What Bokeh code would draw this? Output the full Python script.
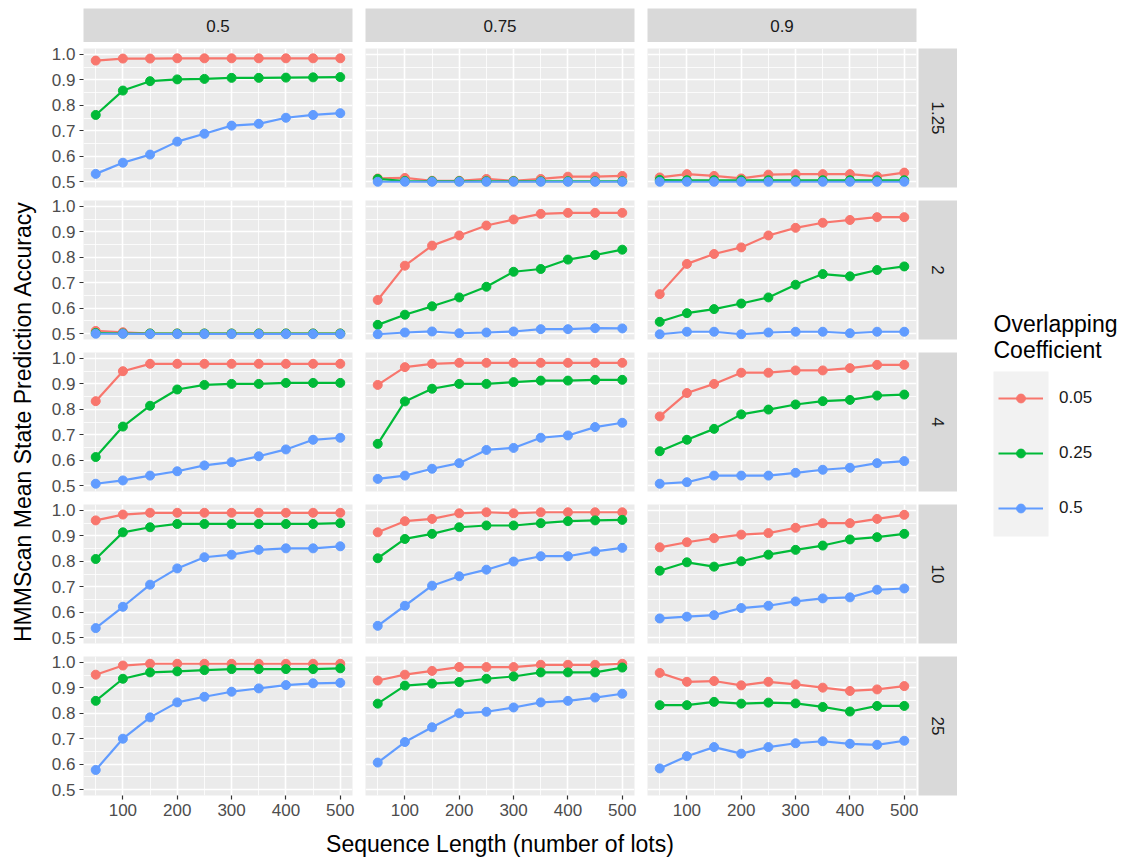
import math
from bokeh.plotting import figure
from bokeh.models import Range1d, FixedTicker, PrintfTickFormatter, Label, Legend, LegendItem, Spacer
from bokeh.layouts import row, column
from bokeh.embed import file_html
from bokeh.resources import INLINE

# ---------------- data ----------------
seq_length = [50, 100, 150, 200, 250, 300, 350, 400, 450, 500]
col_labels = ["0.5", "0.75", "0.9"]
row_labels = ["1.25", "2", "4", "10", "25"]
overlap_labels = ["0.05", "0.25", "0.5"]
x_ticks = [100, 200, 300, 400, 500]
y_ticks = [0.5, 0.6, 0.7, 0.8, 0.9, 1.0]

acc_r125_c050 = {
    "0.05": [0.976, 0.984, 0.984, 0.985, 0.985, 0.985, 0.985, 0.985, 0.985, 0.985],
    "0.25": [0.762, 0.858, 0.895, 0.902, 0.904, 0.908, 0.908, 0.909, 0.910, 0.911],
    "0.5":  [0.530, 0.574, 0.606, 0.657, 0.688, 0.720, 0.727, 0.751, 0.762, 0.769],
}
acc_r125_c075 = {
    "0.05": [0.512, 0.514, 0.503, 0.503, 0.510, 0.503, 0.510, 0.519, 0.519, 0.522],
    "0.25": [0.510, 0.502, 0.501, 0.501, 0.501, 0.501, 0.501, 0.501, 0.501, 0.501],
    "0.5":  [0.499, 0.499, 0.499, 0.499, 0.499, 0.499, 0.499, 0.499, 0.499, 0.499],
}
acc_r125_c090 = {
    "0.05": [0.516, 0.529, 0.522, 0.512, 0.527, 0.529, 0.529, 0.529, 0.520, 0.535],
    "0.25": [0.506, 0.505, 0.505, 0.505, 0.505, 0.505, 0.505, 0.505, 0.505, 0.505],
    "0.5":  [0.499, 0.499, 0.499, 0.499, 0.499, 0.499, 0.499, 0.499, 0.499, 0.499],
}
acc_r2_c050 = {
    "0.05": [0.510, 0.505, 0.500, 0.500, 0.500, 0.500, 0.500, 0.500, 0.500, 0.500],
    "0.25": [0.502, 0.500, 0.500, 0.500, 0.500, 0.500, 0.500, 0.500, 0.500, 0.500],
    "0.5":  [0.499, 0.499, 0.498, 0.498, 0.498, 0.498, 0.498, 0.498, 0.498, 0.498],
}
acc_r2_c075 = {
    "0.05": [0.632, 0.767, 0.846, 0.886, 0.925, 0.949, 0.971, 0.975, 0.975, 0.975],
    "0.25": [0.534, 0.574, 0.607, 0.642, 0.684, 0.743, 0.754, 0.791, 0.809, 0.830],
    "0.5":  [0.497, 0.504, 0.508, 0.501, 0.504, 0.508, 0.517, 0.517, 0.521, 0.520],
}
acc_r2_c090 = {
    "0.05": [0.655, 0.774, 0.813, 0.839, 0.886, 0.916, 0.936, 0.947, 0.958, 0.958],
    "0.25": [0.546, 0.580, 0.596, 0.618, 0.642, 0.692, 0.734, 0.725, 0.750, 0.764],
    "0.5":  [0.497, 0.507, 0.507, 0.497, 0.504, 0.507, 0.507, 0.501, 0.507, 0.507],
}
acc_r4_c050 = {
    "0.05": [0.832, 0.950, 0.979, 0.979, 0.979, 0.979, 0.979, 0.979, 0.979, 0.979],
    "0.25": [0.612, 0.732, 0.814, 0.878, 0.896, 0.900, 0.900, 0.904, 0.904, 0.904],
    "0.5":  [0.507, 0.520, 0.539, 0.556, 0.579, 0.592, 0.615, 0.642, 0.680, 0.688],
}
acc_r4_c075 = {
    "0.05": [0.896, 0.966, 0.979, 0.983, 0.983, 0.983, 0.983, 0.983, 0.983, 0.983],
    "0.25": [0.664, 0.831, 0.881, 0.900, 0.900, 0.907, 0.913, 0.913, 0.916, 0.916],
    "0.5":  [0.526, 0.539, 0.566, 0.588, 0.640, 0.648, 0.688, 0.697, 0.730, 0.747],
}
acc_r4_c090 = {
    "0.05": [0.772, 0.864, 0.900, 0.944, 0.944, 0.953, 0.953, 0.962, 0.975, 0.975],
    "0.25": [0.635, 0.680, 0.723, 0.780, 0.799, 0.819, 0.832, 0.837, 0.854, 0.858],
    "0.5":  [0.507, 0.513, 0.539, 0.539, 0.539, 0.550, 0.562, 0.570, 0.588, 0.596],
}
acc_r10_c050 = {
    "0.05": [0.961, 0.984, 0.991, 0.991, 0.991, 0.991, 0.991, 0.991, 0.991, 0.991],
    "0.25": [0.809, 0.914, 0.934, 0.947, 0.947, 0.947, 0.947, 0.947, 0.947, 0.950],
    "0.5":  [0.537, 0.621, 0.708, 0.772, 0.816, 0.826, 0.845, 0.851, 0.851, 0.859],
}
acc_r10_c075 = {
    "0.05": [0.914, 0.958, 0.967, 0.989, 0.993, 0.989, 0.993, 0.993, 0.993, 0.993],
    "0.25": [0.812, 0.888, 0.908, 0.934, 0.941, 0.941, 0.950, 0.958, 0.961, 0.963],
    "0.5":  [0.546, 0.625, 0.704, 0.741, 0.767, 0.799, 0.820, 0.820, 0.839, 0.853],
}
acc_r10_c090 = {
    "0.05": [0.855, 0.875, 0.891, 0.905, 0.911, 0.932, 0.950, 0.950, 0.967, 0.983],
    "0.25": [0.763, 0.796, 0.779, 0.800, 0.826, 0.845, 0.862, 0.886, 0.895, 0.908],
    "0.5":  [0.575, 0.582, 0.588, 0.616, 0.625, 0.642, 0.654, 0.658, 0.688, 0.693],
}
acc_r25_c050 = {
    "0.05": [0.952, 0.988, 0.995, 0.995, 0.995, 0.995, 0.995, 0.995, 0.995, 0.995],
    "0.25": [0.849, 0.936, 0.961, 0.965, 0.970, 0.974, 0.974, 0.974, 0.974, 0.977],
    "0.5":  [0.577, 0.700, 0.784, 0.843, 0.865, 0.885, 0.898, 0.911, 0.918, 0.920],
}
acc_r25_c075 = {
    "0.05": [0.929, 0.952, 0.967, 0.982, 0.982, 0.982, 0.991, 0.991, 0.991, 0.995],
    "0.25": [0.838, 0.909, 0.917, 0.923, 0.936, 0.945, 0.961, 0.961, 0.961, 0.980],
    "0.5":  [0.606, 0.687, 0.745, 0.800, 0.806, 0.823, 0.843, 0.849, 0.862, 0.877],
}
acc_r25_c090 = {
    "0.05": [0.959, 0.924, 0.927, 0.910, 0.924, 0.914, 0.901, 0.888, 0.894, 0.907],
    "0.25": [0.832, 0.832, 0.845, 0.838, 0.842, 0.839, 0.825, 0.807, 0.829, 0.829],
    "0.5":  [0.583, 0.631, 0.667, 0.641, 0.667, 0.682, 0.690, 0.680, 0.676, 0.692],
}

panel_data = [
    [acc_r125_c050, acc_r125_c075, acc_r125_c090],
    [acc_r2_c050, acc_r2_c075, acc_r2_c090],
    [acc_r4_c050, acc_r4_c075, acc_r4_c090],
    [acc_r10_c050, acc_r10_c075, acc_r10_c090],
    [acc_r25_c050, acc_r25_c075, acc_r25_c090],
]

# ---------------- style ----------------
colors = {"0.05": "#F8766D", "0.25": "#00BA38", "0.5": "#619CFF"}
FONT = "Liberation Sans"
FW, FH = 269, 139
GAP = 13                # horizontal gap between panels
PT, PB = 6, 7           # top / bottom border of each panel figure (vertical gap = 13)
LB = 43                 # left border of first column (tick labels)
TW = 40                 # y-title strip width
STRIP_W = 39
BOTTOM_AX = 32
XT_H = 30
PANEL_BG = "#EBEBEB"
STRIP_BG = "#D9D9D9"
TICK_FS = "17px"
STRIP_FS = "17px"
TITLE_FS = "23px"


def blank(width, height, xr, yr, bg="white"):
    f = figure(width=width, height=height, x_range=xr, y_range=yr,
               x_axis_location=None, y_axis_location=None,
               toolbar_location=None, output_backend="svg",
               min_border_left=0, min_border_right=0, min_border_top=0, min_border_bottom=0,
               background_fill_color=bg, border_fill_color="white", outline_line_color=None)
    f.grid.visible = False
    return f


def strip_top(c, text):
    f = figure(frame_width=FW, frame_height=34, x_range=Range1d(0, 1), y_range=Range1d(0, 1),
               x_axis_location=None, y_axis_location=None, toolbar_location=None,
               output_backend="svg",
               min_border_left=(LB if c == 0 else 0), min_border_right=(GAP if c < 2 else 2),
               min_border_top=8, min_border_bottom=0,
               background_fill_color=STRIP_BG, border_fill_color="white", outline_line_color=None)
    f.grid.visible = False
    f.add_layout(Label(x=0.5, y=0.5, text=text, text_align="center", text_baseline="middle",
                       text_font=FONT, text_font_size=STRIP_FS, text_color="#1A1A1A"))
    return f


def strip_right(r, text):
    last = r == 4
    f = figure(frame_width=STRIP_W, frame_height=FH, x_range=Range1d(0, 1), y_range=Range1d(0, 1),
               x_axis_location=None, y_axis_location=None, toolbar_location=None,
               output_backend="svg",
               min_border_left=0, min_border_right=0, min_border_top=PT,
               min_border_bottom=(BOTTOM_AX if last else PB),
               background_fill_color=STRIP_BG, border_fill_color="white", outline_line_color=None)
    f.grid.visible = False
    f.add_layout(Label(x=0.5, y=0.5, text=text, text_align="center", text_baseline="middle",
                       angle=-math.pi / 2, text_font=FONT, text_font_size=STRIP_FS,
                       text_color="#1A1A1A"))
    return f


def panel(r, c):
    last = r == 4
    first = c == 0
    p = figure(frame_width=FW, frame_height=FH,
               x_range=Range1d(27.5, 522.5), y_range=Range1d(0.4764, 1.0236),
               x_axis_location=("below" if last else None),
               y_axis_location=("left" if first else None),
               toolbar_location=None, output_backend="svg",
               min_border_left=(LB if first else 0), min_border_right=(GAP if c < 2 else 2),
               min_border_top=PT, min_border_bottom=(BOTTOM_AX if last else PB),
               background_fill_color=PANEL_BG, border_fill_color="white",
               outline_line_color=None)
    for g in p.xgrid:
        g.ticker = FixedTicker(ticks=x_ticks, minor_ticks=[50, 150, 250, 350, 450])
    for g in p.ygrid:
        g.ticker = FixedTicker(ticks=y_ticks, minor_ticks=[0.55, 0.65, 0.75, 0.85, 0.95])
    p.grid.grid_line_color = "white"
    p.grid.grid_line_width = 1.6
    p.grid.minor_grid_line_color = "white"
    p.grid.minor_grid_line_width = 0.8

    if last:
        p.xaxis.ticker = FixedTicker(ticks=x_ticks)
    if first:
        p.yaxis.ticker = FixedTicker(ticks=y_ticks)
        p.yaxis.formatter = PrintfTickFormatter(format="%.1f")
    for ax in p.axis:
        ax.axis_line_color = None
        ax.major_tick_line_color = "#333333"
        ax.major_tick_line_width = 1.2
        ax.major_tick_out = 4
        ax.major_tick_in = 0
        ax.minor_tick_line_color = None
        ax.major_label_text_font = FONT
        ax.major_label_text_font_size = TICK_FS
        ax.major_label_text_color = "#4D4D4D"
        ax.major_label_standoff = 4

    data = panel_data[r][c]
    for lab in overlap_labels:
        p.line(seq_length, data[lab], line_color=colors[lab], line_width=2.2)
    for lab in overlap_labels:
        p.scatter(seq_length, data[lab], size=9, fill_color=colors[lab], line_color=colors[lab])
    return p


# ---------------- layout ----------------
top = row(strip_top(0, col_labels[0]), strip_top(1, col_labels[1]), strip_top(2, col_labels[2]),
          Spacer(width=STRIP_W, height=42))
panel_rows = []
for r in range(5):
    panel_rows.append(row(panel(r, 0), panel(r, 1), panel(r, 2), strip_right(r, row_labels[r])))

main_w = (LB + FW + GAP) + (FW + GAP) + (FW + 2) + STRIP_W
xt = blank(main_w, XT_H, Range1d(0, main_w), Range1d(XT_H, 0))
xt.add_layout(Label(x=LB + (3 * FW + 2 * GAP) / 2, y=16, text="Sequence Length (number of lots)",
                    text_align="center", text_baseline="middle", text_font=FONT,
                    text_font_size=TITLE_FS, text_color="black"))

main = column(top, *panel_rows, xt)

H = 857
yt = blank(TW, H, Range1d(0, TW), Range1d(H, 0))
yt.add_layout(Label(x=22, y=421, text="HMMScan Mean State Prediction Accuracy",
                    angle=math.pi / 2, text_align="center", text_baseline="middle",
                    text_font=FONT, text_font_size=TITLE_FS, text_color="black"))

LW = 1133 - TW - main_w
lf = blank(LW, H, Range1d(0, LW), Range1d(H, 0))
# off-screen range so that the legend's own renderers draw nothing inside the frame
lf.extra_x_ranges = {"off": Range1d(10000, 20000)}
lf.quad(left=[36], right=[91], top=[371], bottom=[536], fill_color="#F2F2F2", line_color=None)
lf.add_layout(Label(x=36, y=323, text="Overlapping", text_baseline="middle", text_font=FONT,
                    text_font_size=TITLE_FS, text_color="black"))
lf.add_layout(Label(x=36, y=349, text="Coefficient", text_baseline="middle", text_font=FONT,
                    text_font_size=TITLE_FS, text_color="black"))
items = []
for lab in overlap_labels:
    rl = lf.line(x=seq_length, y=acc_r2_c075[lab], x_range_name="off",
                 line_color=colors[lab], line_width=2.2)
    rs = lf.scatter(x=seq_length, y=acc_r2_c075[lab], x_range_name="off", size=9,
                    fill_color=colors[lab], line_color=colors[lab])
    items.append(LegendItem(label=lab, renderers=[rl, rs], index=0))
legend = Legend(items=items, location=(41, H - 519), glyph_width=45, glyph_height=22,
                label_height=22, spacing=33, padding=0, margin=0, label_standoff=16,
                label_text_font=FONT, label_text_font_size="17px", label_text_color="#1A1A1A",
                background_fill_alpha=0, border_line_color=None)
lf.add_layout(legend)

layout = row(yt, main, lf)

open("out.html", "w").write(file_html(layout, INLINE))
